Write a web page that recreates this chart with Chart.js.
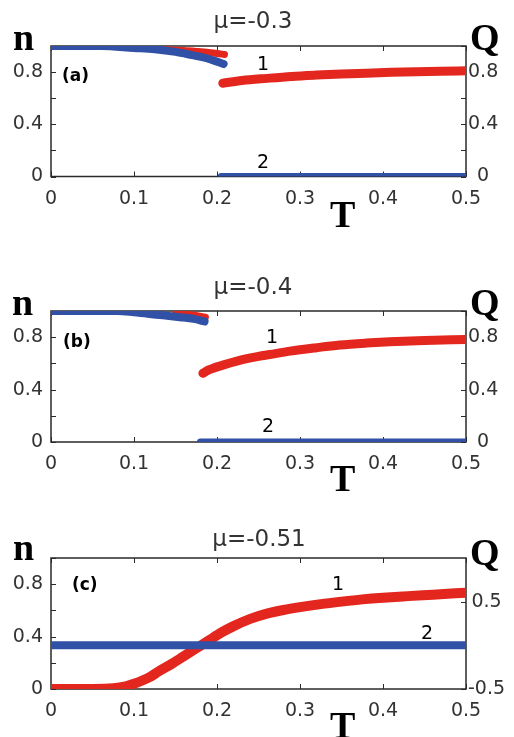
<!DOCTYPE html>
<html>
<head>
<meta charset="utf-8">
<script src="https://cdn.jsdelivr.net/npm/chart.js@4.4.1/dist/chart.umd.min.js"></script>
<style>
  html, body { margin: 0; padding: 0; background: #fff; }
  body { width: 514px; height: 737px; position: relative; overflow: hidden; }
  canvas { position: absolute; left: 0; }
</style>
</head>
<body>
<canvas id="chartA" width="514" height="245" style="top:0px"></canvas>
<canvas id="chartB" width="514" height="250" style="top:245px"></canvas>
<canvas id="chartC" width="514" height="242" style="top:495px"></canvas>
<script>
// ticks
const tTicks = [0, 0.1, 0.2, 0.3, 0.4, 0.5];
const nTicks = [0, 0.2, 0.4, 0.6, 0.8, 1.0];
const nLabels = [0, 0.4, 0.8];
const qTicksC = [-0.5, 0.5];

// (a) mu = -0.3
const tA_blue1 = [0, 0.06, 0.1, 0.125, 0.15, 0.17, 0.185, 0.2, 0.208];
const qA_blue1 = [1.0, 1.0, 0.985, 0.975, 0.955, 0.93, 0.91, 0.88, 0.862];
const tA_red1 = [0.13, 0.16, 0.175, 0.19, 0.2, 0.209];
const nA_red1 = [0.975, 0.965, 0.958, 0.95, 0.943, 0.935];
const tA_red2 = [0.207, 0.23, 0.26, 0.29, 0.32, 0.35, 0.38, 0.41, 0.44, 0.47, 0.5];
const nA_red2 = [0.715, 0.735, 0.752, 0.767, 0.777, 0.785, 0.792, 0.798, 0.803, 0.807, 0.81];
const tA_blue2 = [0.205, 0.5];
const qA_blue2 = [0, 0];

// (b) mu = -0.4
const tB_blue1 = [0, 0.08, 0.1, 0.127, 0.155, 0.172, 0.185];
const qB_blue1 = [1.0, 1.0, 0.99, 0.972, 0.953, 0.94, 0.92];
const tB_red1 = [0.15, 0.17, 0.186];
const nB_red1 = [0.98, 0.97, 0.952];
const tB_red2 = [0.183, 0.19, 0.207, 0.225, 0.247, 0.27, 0.288, 0.32, 0.348, 0.38, 0.408, 0.45, 0.5];
const nB_red2 = [0.525, 0.55, 0.587, 0.62, 0.65, 0.675, 0.694, 0.72, 0.74, 0.755, 0.765, 0.775, 0.783];
const tB_blue2 = [0.18, 0.5];
const qB_blue2 = [0, 0];

// (c) mu = -0.51
const tC_red = [0, 0.05, 0.075, 0.09, 0.1, 0.11, 0.12, 0.13, 0.145, 0.16, 0.175, 0.19, 0.205, 0.22, 0.24, 0.26, 0.28, 0.3, 0.325, 0.35, 0.375, 0.4, 0.43, 0.46, 0.5];
const nC_red = [0, 0, 0.005, 0.02, 0.04, 0.065, 0.095, 0.135, 0.19, 0.25, 0.31, 0.37, 0.43, 0.48, 0.535, 0.575, 0.603, 0.625, 0.648, 0.667, 0.684, 0.697, 0.709, 0.72, 0.735];
const tC_blue = [0, 0.5];
const qC_blue = [0, 0];

const RED = '#e3261e';
const BLUE = '#3151a6';
const TXT = '#333333';

function pts(xs, ys) {
    return xs.map((x, i) => ({ x: x, y: ys[i] }));
}

function serie(xs, ys, cor, eixo, largura) {
    return {
        data: pts(xs, ys),
        borderColor: cor,
        borderWidth: largura,
        borderCapStyle: 'round',
        pointRadius: 0,
        cubicInterpolationMode: 'monotone',
        fill: false,
        clip: 0,
        yAxisID: eixo
    };
}

function fmt(v) {
    return String(+v.toFixed(2));
}

// moldura com ticks para dentro
const moldura = {
    id: 'moldura',
    beforeDatasetsDraw(chart) {
        const { ctx, chartArea: a, scales } = chart;
        ctx.save();
        ctx.strokeStyle = '#2a2a2a';
        ctx.lineWidth = 1;
        ctx.beginPath();
        scales.x.ticks.forEach(t => {
            const px = Math.round(scales.x.getPixelForValue(t.value)) + 0.5;
            ctx.moveTo(px, a.bottom); ctx.lineTo(px, a.bottom - 5);
            ctx.moveTo(px, a.top); ctx.lineTo(px, a.top + 5);
        });
        scales.y.ticks.forEach(t => {
            const py = Math.round(scales.y.getPixelForValue(t.value)) + 0.5;
            ctx.moveTo(a.left, py); ctx.lineTo(a.left + 5, py);
        });
        scales.q.ticks.forEach(t => {
            const py = Math.round(scales.q.getPixelForValue(t.value)) + 0.5;
            ctx.moveTo(a.right, py); ctx.lineTo(a.right - 5, py);
        });
        ctx.stroke();
        ctx.lineWidth = 1.5;
        ctx.strokeRect(a.left, a.top, a.right - a.left, a.bottom - a.top);
        ctx.restore();
    }
};

// textos do painel (coordenadas da pagina)
function textos(topo, lista) {
    return {
        id: 'textos',
        afterDraw(chart) {
            const ctx = chart.ctx;
            ctx.save();
            ctx.textBaseline = 'alphabetic';
            lista.forEach(t => {
                ctx.font = t.font;
                ctx.fillStyle = t.cor || '#000';
                ctx.textAlign = t.align || 'left';
                ctx.fillText(t.txt, t.x, t.y - topo);
            });
            ctx.restore();
        }
    };
}

const fTitulo = '23px "DejaVu Sans"';
const fEixo = 'bold 38px "Liberation Serif"';
const fPainel = 'bold 17px "DejaVu Sans"';
const fCurva = '19px "DejaVu Sans"';

function criarGrafico(id, topo, pad, datasets, qMin, qTicks, lista) {
    const ctx = document.getElementById(id).getContext('2d');
    return new Chart(ctx, {
        type: 'line',
        data: { datasets: datasets },
        options: {
            responsive: false,
            animation: false,
            devicePixelRatio: 1,
            layout: { padding: { top: pad.top, bottom: pad.bottom, left: 0, right: 0 } },
            scales: {
                x: {
                    type: 'linear',
                    min: 0, max: 0.5,
                    afterBuildTicks: s => { s.ticks = tTicks.map(v => ({ value: v })); },
                    afterFit: s => { s.height = 30; },
                    grid: { display: false, drawTicks: false },
                    border: { display: false },
                    ticks: {
                        autoSkip: false, maxRotation: 0, padding: 11,
                        color: TXT, font: { family: 'DejaVu Sans', size: 19 },
                        callback: v => fmt(v)
                    }
                },
                y: {
                    position: 'left',
                    min: 0, max: 1,
                    afterBuildTicks: s => { s.ticks = nTicks.map(v => ({ value: v })); },
                    afterFit: s => { s.width = 51; },
                    grid: { display: false, drawTicks: false },
                    border: { display: false },
                    ticks: {
                        autoSkip: false, padding: 8,
                        color: TXT, font: { family: 'DejaVu Sans', size: 19 },
                        callback: v => nLabels.includes(+v.toFixed(2)) ? fmt(v) : ''
                    }
                },
                q: {
                    position: 'right',
                    min: qMin, max: 1,
                    afterBuildTicks: s => { s.ticks = qTicks.map(v => ({ value: v })); },
                    afterFit: s => { s.width = 48; },
                    grid: { display: false, drawTicks: false },
                    border: { display: false },
                    ticks: {
                        autoSkip: false, padding: 2, crossAlign: 'center',
                        color: TXT, font: { family: 'DejaVu Sans', size: 19 },
                        callback: v => (qMin < 0 || nLabels.includes(+v.toFixed(2))) ? fmt(v) : ''
                    }
                }
            },
            plugins: {
                legend: { display: false },
                tooltip: { enabled: false }
            }
        },
        plugins: [moldura, textos(topo, lista)]
    });
}

criarGrafico('chartA', 0, { top: 46, bottom: 38.5 }, [
    serie(tA_blue1, qA_blue1, BLUE, 'q', 8),
    serie(tA_blue2, qA_blue2, BLUE, 'q', 7),
    serie(tA_red1, nA_red1, RED, 'y', 7),
    serie(tA_red2, nA_red2, RED, 'y', 9)
], 0, nTicks, [
    { txt: 'μ=-0.3', x: 253, y: 28, font: fTitulo, cor: TXT, align: 'center' },
    { txt: 'n', x: 13, y: 50, font: fEixo },
    { txt: 'Q', x: 470, y: 50, font: fEixo },
    { txt: 'T', x: 330, y: 227, font: fEixo },
    { txt: '(a)', x: 62, y: 81, font: fPainel },
    { txt: '1', x: 263, y: 70, font: fCurva, align: 'center' },
    { txt: '2', x: 263, y: 168, font: fCurva, align: 'center' }
]);

criarGrafico('chartB', 245, { top: 66, bottom: 23 }, [
    serie(tB_blue1, qB_blue1, BLUE, 'q', 8),
    serie(tB_blue2, qB_blue2, BLUE, 'q', 7),
    serie(tB_red1, nB_red1, RED, 'y', 7),
    serie(tB_red2, nB_red2, RED, 'y', 9)
], 0, nTicks, [
    { txt: 'μ=-0.4', x: 253, y: 294, font: fTitulo, cor: TXT, align: 'center' },
    { txt: 'n', x: 12, y: 315, font: fEixo },
    { txt: 'Q', x: 470, y: 315, font: fEixo },
    { txt: 'T', x: 330, y: 491, font: fEixo },
    { txt: '(b)', x: 63, y: 347, font: fPainel },
    { txt: '1', x: 272, y: 343, font: fCurva, align: 'center' },
    { txt: '2', x: 268, y: 432, font: fCurva, align: 'center' }
]);

criarGrafico('chartC', 495, { top: 63, bottom: 18 }, [
    serie(tC_blue, qC_blue, BLUE, 'q', 8),
    serie(tC_red, nC_red, RED, 'y', 10)
], -0.5, qTicksC, [
    { txt: 'μ=-0.51', x: 259, y: 546, font: fTitulo, cor: TXT, align: 'center' },
    { txt: 'n', x: 13, y: 560, font: fEixo },
    { txt: 'Q', x: 470, y: 565, font: fEixo },
    { txt: 'T', x: 330, y: 738, font: fEixo },
    { txt: '(c)', x: 72, y: 590, font: fPainel },
    { txt: '1', x: 338, y: 590, font: fCurva, align: 'center' },
    { txt: '2', x: 427, y: 639, font: fCurva, align: 'center' }
]);
</script>
</body>
</html>
